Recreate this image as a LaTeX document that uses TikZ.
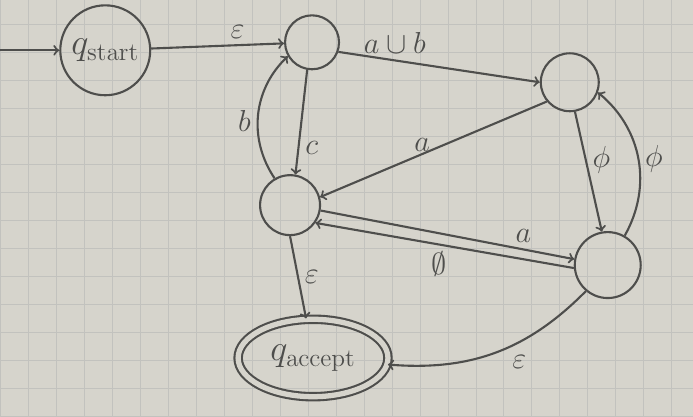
\documentclass[tikz,border=0pt]{standalone}
\usepackage{amsmath}
\usetikzlibrary{%
    arrows,
    positioning,
    calc,
    shapes
}
\definecolor{paper}{RGB}{214,212,204}
\definecolor{gridline}{RGB}{194,194,190}
\definecolor{pencil}{RGB}{78,78,76}

\begin{document}
\begin{tikzpicture}[color=pencil, line width=1.2pt,
    dot/.style={circle, draw, font=\huge},
    lbl/.style={font=\LARGE}]
      \fill[paper] (0,0) rectangle (13.86,8.32);
      \draw[gridline, line width=.4pt, step=.56] (0,0) grid (13.86,8.32);
      \useasboundingbox (0,0) rectangle (13.86,8.32);

      \coordinate (init) at (0,7.32);
      \node[dot, minimum size=1.8cm] (q_s) at (2.10,7.32) {$q_{\mathrm{start}}$};
      \node[dot, minimum size=1.08cm] (q_1) at (6.24,7.48) {};
      \node[dot, minimum size=1.16cm] (q_2) at (11.40,6.68) {};
      \node[dot, minimum size=1.2cm] (q_3) at (5.80,4.22) {};
      \node[dot, minimum size=1.32cm] (q_4) at (12.16,3.02) {};
      \node[ellipse, draw, double=paper, double distance=3pt, font=\huge,
            minimum width=3.0cm, minimum height=1.55cm] (q_a) at (6.26,1.16) {$q_{\mathrm{accept}}$};

      \draw[->] (init) -- (q_s);
      \draw[->] (q_s) -- node[lbl, above, pos=.65]{$\varepsilon$} (q_1);

      \draw[->] (q_1.-20) -- node[lbl, above, pos=.28]{$a\cup b$} (q_2.west);
      \draw[->] (q_1.-100) -- node[lbl, right, pos=.75]{$c$} (q_3.80);
      \draw[->] (q_3.120) to[bend left=40] node[lbl, left, pos=.45]{$b$} (q_1.-150);

      \draw[->] (q_2.-140) -- node[lbl, above, pos=.55, inner sep=1pt]{$a$} (q_3.15);
      \draw[->] (q_2.-80) -- node[lbl, right, pos=.4]{$\phi$} (q_4.100);
      \draw[->] (q_4.60) to[bend right=40] node[lbl, right]{$\phi$} (q_2.-20);

      \draw[->] (q_3.-10) -- node[lbl, above, pos=.8]{$a$} (q_4.170);
      \draw[->] (q_4.185) -- node[lbl, below, pos=.52]{$\emptyset$} (q_3.-35);

      \draw[->] (q_3.south) -- node[lbl, right]{$\varepsilon$} (q_a.100);
      \draw[->] (q_4.-130) to[bend left=25] node[lbl, below right, pos=.45]{$\varepsilon$} (q_a.-5);
    \end{tikzpicture}
\end{document}
